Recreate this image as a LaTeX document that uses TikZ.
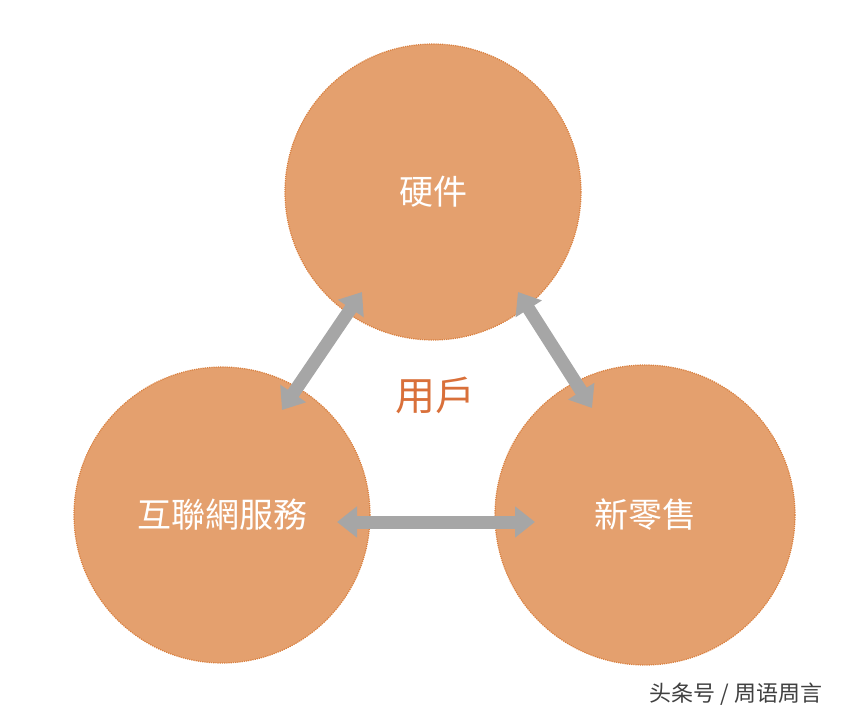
\documentclass[tikz,border=0pt]{standalone}
\usepackage{fontspec}
\newfontfamily\cjk{Noto Sans CJK TC}[Scale=1]
\usetikzlibrary{arrows.meta}
\definecolor{fillor}{HTML}{E4A06E}
\definecolor{edgeor}{HTML}{D9803F}
\definecolor{txtor}{HTML}{D9703A}
\definecolor{arrg}{HTML}{A6A6A6}
\tikzset{
 ball/.style={circle,fill=fillor,draw=edgeor,densely dotted,line width=1.2pt,minimum size=296pt,inner sep=0pt,text=white,font=\cjk\fontsize{34}{34}\selectfont},
 link/.style={draw=arrg,line width=13pt,{Triangle[length=20pt,width=30pt]}-{Triangle[length=20pt,width=30pt]}}
}
\begin{document}
\begin{tikzpicture}[x=1pt,y=-1pt]
\useasboundingbox (0,0) rectangle (860,720);
\node[ball] (hw) at (433,192) {硬件};
\node[ball] (net) at (222,515) {互聯網服務};
\node[ball,minimum size=300pt] (ret) at (645,515) {新零售};
\node[text=txtor,font=\cjk\fontsize{40}{40}\selectfont] (user) at (435,395) {用戶};
\coordinate (a1) at (362,292); \coordinate (a2) at (282,410);
\coordinate (b1) at (518,292); \coordinate (b2) at (592,408);
\coordinate (c1) at (337,522); \coordinate (c2) at (535,522);
\draw[link] (a1) -- (a2);
\draw[link] (b1) -- (b2);
\draw[link] (c1) -- (c2);
\node[text=black!75,font=\cjk\fontsize{22}{22}\selectfont] (wm) at (736,694) {头条号 / 周语周言};
\end{tikzpicture}
\end{document}
